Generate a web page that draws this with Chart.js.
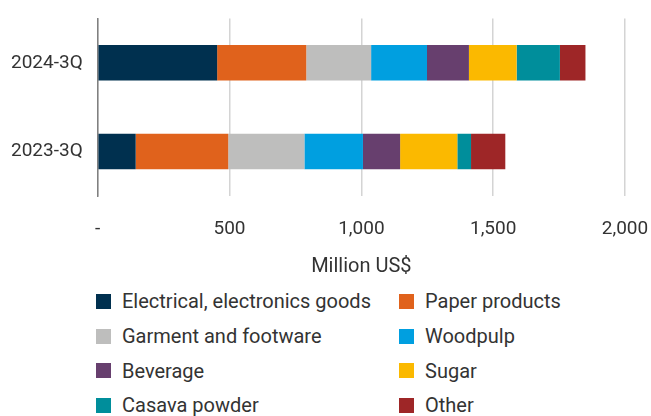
<!DOCTYPE html>
<html>
<head>
<meta charset="utf-8">
<script src="https://cdn.jsdelivr.net/npm/chart.js@4.4.1/dist/chart.umd.min.js"></script>
<style>
  html, body { margin: 0; padding: 0; background: #fff; }
  body { width: 651px; height: 416px; overflow: hidden; font-family: Roboto, sans-serif; color: #333; }
  #wrap { position: relative; width: 651px; height: 284px; }
  #legend { position: absolute; left: 96px; top: 284px; display: grid; grid-template-columns: 303px 240px; }
  .item { display: flex; align-items: center; height: 34.7px; font-size: 20px; white-space: nowrap; }
  .box { width: 15px; height: 15px; margin-right: 11px; flex: none; }
</style>
</head>
<body>
<div id="wrap"><canvas id="chart"></canvas></div>
<div id="legend"></div>
<script>
const categories = ['2024-3Q', '2023-3Q'];
const seriesNames = [
  'Electrical, electronics goods', 'Paper products', 'Garment and footware', 'Woodpulp',
  'Beverage', 'Sugar', 'Casava powder', 'Other'
];
const electrical = [453, 144];
const paper = [338, 351];
const garment = [246, 289];
const woodpulp = [212, 222];
const beverage = [159, 141];
const sugar = [181, 217];
const casava = [164, 52];
const other = [97, 130];
const xTicks = [0, 500, 1000, 1500, 2000];

const colors = ['#00304f', '#e0621c', '#bebebd', '#009fe0', '#673f6e', '#fbb900', '#008e9b', '#9e2627'];
const values = [electrical, paper, garment, woodpulp, beverage, sugar, casava, other];

const ctx = document.getElementById('chart');

const chart = new Chart(ctx, {
  type: 'bar',
  data: {
    labels: categories,
    datasets: seriesNames.map((name, i) => ({
      label: name,
      data: values[i],
      backgroundColor: colors[i],
      borderWidth: 0,
      barPercentage: 0.8,
      categoryPercentage: 0.5
    }))
  },
  options: {
    indexAxis: 'y',
    responsive: true,
    maintainAspectRatio: false,
    animation: false,
    layout: { autoPadding: false, padding: { top: 12, right: 26, left: 4, bottom: 0 } },
    plugins: {
      legend: { display: false },
      tooltip: { enabled: false }
    },
    scales: {
      x: {
        stacked: true,
        min: 0,
        max: 2000,
        afterBuildTicks: axis => { axis.ticks = xTicks.map(v => ({ value: v })); },
        // fixed axis box so the plot ends at the same place every time
        afterFit: axis => {
          axis.height = 88;
          axis.paddingRight = 0;
          axis.paddingLeft = 0;
        },
        grid: { color: '#d4d4d4', lineWidth: 1.5, drawTicks: true, tickLength: 0 },
        border: { display: false },
        ticks: {
          padding: 22,
          color: '#333',
          font: { family: 'Roboto', size: 19 },
          maxRotation: 0,
          callback: v => v === 0 ? '-' : v.toLocaleString('en-US')
        },
        title: {
          display: true,
          text: 'Million US$',
          color: '#333',
          font: { family: 'Roboto', size: 20 },
          padding: { top: 0, bottom: 5 }
        }
      },
      y: {
        stacked: true,
        grid: { display: false },
        border: { display: true, color: '#808080', width: 1.5 },
        ticks: {
          padding: 7,
          color: '#333',
          font: { family: 'Roboto', size: 19 }
        }
      }
    }
  }
});

// two-column legend built from the chart's datasets
const legend = document.getElementById('legend');
chart.data.datasets.forEach(ds => {
  const item = document.createElement('div');
  item.className = 'item';
  const box = document.createElement('span');
  box.className = 'box';
  box.style.background = ds.backgroundColor;
  const label = document.createElement('span');
  label.textContent = ds.label;
  item.appendChild(box);
  item.appendChild(label);
  legend.appendChild(item);
});
</script>
</body>
</html>
